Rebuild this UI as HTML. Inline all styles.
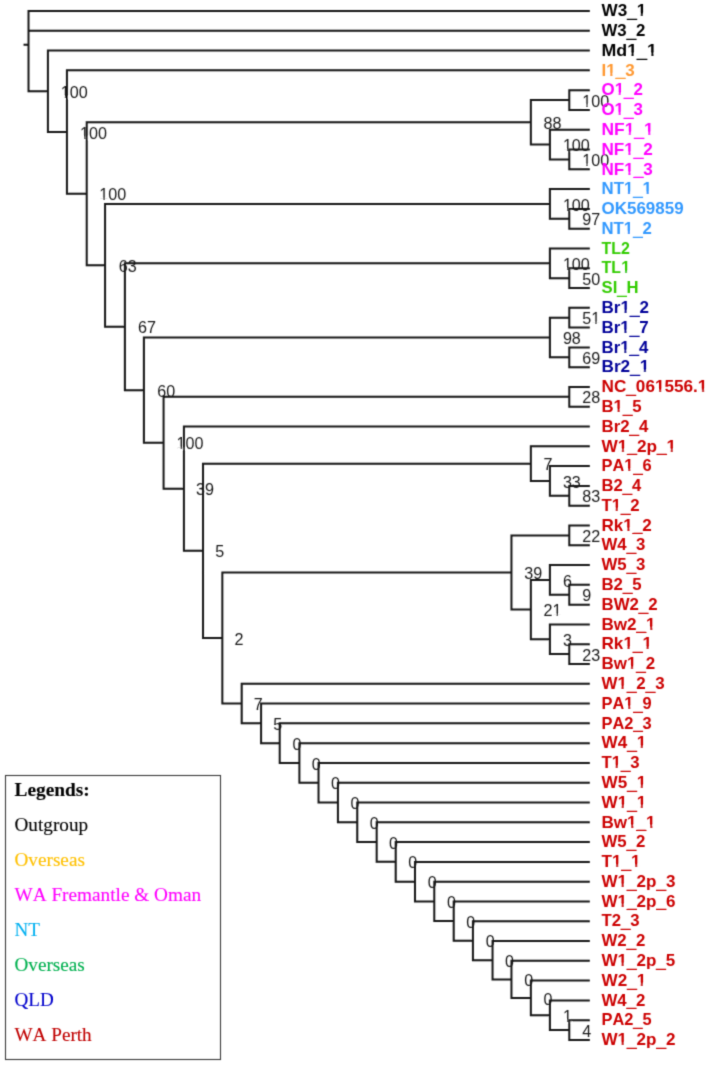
<!DOCTYPE html><html><head><meta charset="utf-8"><style>html,body{margin:0;padding:0;background:#fff;}body{width:708px;height:1065px;overflow:hidden;position:relative;}svg{position:absolute;left:0;top:0;}text{font-kerning:none;}</style></head><body>
<svg width="708" height="1065" viewBox="0 0 708 1065">
<defs><filter id="bl" x="0" y="0" width="708" height="1065" filterUnits="userSpaceOnUse"><feConvolveMatrix order="3" kernelMatrix="0.0225 0.1050 0.0225 0.1050 0.4900 0.1050 0.0225 0.1050 0.0225" edgeMode="none" preserveAlpha="false"/></filter></defs><rect width="708" height="1065" fill="#fff"/><g filter="url(#bl)">
<g font-family="Liberation Sans" font-size="17" fill="#1a1a1a">
<text x="582.20" y="106.65" textLength="26.95" lengthAdjust="spacingAndGlyphs">100</text>
<text x="582.20" y="166.01" textLength="26.95" lengthAdjust="spacingAndGlyphs">100</text>
<text x="562.89" y="151.17" textLength="26.95" lengthAdjust="spacingAndGlyphs">100</text>
<text x="543.57" y="128.91" textLength="17.96" lengthAdjust="spacingAndGlyphs">88</text>
<text x="582.20" y="225.37" textLength="17.96" lengthAdjust="spacingAndGlyphs">97</text>
<text x="562.89" y="210.53" textLength="26.95" lengthAdjust="spacingAndGlyphs">100</text>
<text x="582.20" y="284.74" textLength="17.96" lengthAdjust="spacingAndGlyphs">50</text>
<text x="562.89" y="269.90" textLength="26.95" lengthAdjust="spacingAndGlyphs">100</text>
<text x="582.20" y="324.31" textLength="17.96" lengthAdjust="spacingAndGlyphs">51</text>
<text x="582.20" y="363.89" textLength="17.96" lengthAdjust="spacingAndGlyphs">69</text>
<text x="562.89" y="344.10" textLength="17.96" lengthAdjust="spacingAndGlyphs">98</text>
<text x="582.20" y="403.47" textLength="17.96" lengthAdjust="spacingAndGlyphs">28</text>
<text x="582.20" y="502.41" textLength="17.96" lengthAdjust="spacingAndGlyphs">83</text>
<text x="562.89" y="487.57" textLength="17.96" lengthAdjust="spacingAndGlyphs">33</text>
<text x="543.57" y="470.25" textLength="8.98" lengthAdjust="spacingAndGlyphs">7</text>
<text x="582.20" y="541.98" textLength="17.96" lengthAdjust="spacingAndGlyphs">22</text>
<text x="582.20" y="601.35" textLength="8.98" lengthAdjust="spacingAndGlyphs">9</text>
<text x="562.89" y="586.50" textLength="8.98" lengthAdjust="spacingAndGlyphs">6</text>
<text x="582.20" y="660.71" textLength="17.96" lengthAdjust="spacingAndGlyphs">23</text>
<text x="562.89" y="645.87" textLength="8.98" lengthAdjust="spacingAndGlyphs">3</text>
<text x="543.57" y="616.19" textLength="17.96" lengthAdjust="spacingAndGlyphs">21</text>
<text x="524.26" y="579.08" textLength="17.96" lengthAdjust="spacingAndGlyphs">39</text>
<text x="582.20" y="1036.68" textLength="8.98" lengthAdjust="spacingAndGlyphs">4</text>
<text x="562.89" y="1021.84" textLength="8.98" lengthAdjust="spacingAndGlyphs">1</text>
<text x="543.57" y="1004.53" textLength="8.98" lengthAdjust="spacingAndGlyphs">0</text>
<text x="524.26" y="985.98" textLength="8.98" lengthAdjust="spacingAndGlyphs">0</text>
<text x="504.94" y="966.81" textLength="8.98" lengthAdjust="spacingAndGlyphs">0</text>
<text x="485.63" y="947.33" textLength="8.98" lengthAdjust="spacingAndGlyphs">0</text>
<text x="466.32" y="927.69" textLength="8.98" lengthAdjust="spacingAndGlyphs">0</text>
<text x="447.00" y="907.98" textLength="8.98" lengthAdjust="spacingAndGlyphs">0</text>
<text x="427.69" y="888.23" textLength="8.98" lengthAdjust="spacingAndGlyphs">0</text>
<text x="408.37" y="868.46" textLength="8.98" lengthAdjust="spacingAndGlyphs">0</text>
<text x="389.06" y="848.69" textLength="8.98" lengthAdjust="spacingAndGlyphs">0</text>
<text x="369.75" y="828.90" textLength="8.98" lengthAdjust="spacingAndGlyphs">0</text>
<text x="350.43" y="809.12" textLength="8.98" lengthAdjust="spacingAndGlyphs">0</text>
<text x="331.12" y="789.33" textLength="8.98" lengthAdjust="spacingAndGlyphs">0</text>
<text x="311.80" y="769.54" textLength="8.98" lengthAdjust="spacingAndGlyphs">0</text>
<text x="292.49" y="749.76" textLength="8.98" lengthAdjust="spacingAndGlyphs">0</text>
<text x="273.18" y="729.97" textLength="8.98" lengthAdjust="spacingAndGlyphs">5</text>
<text x="253.86" y="710.18" textLength="8.98" lengthAdjust="spacingAndGlyphs">7</text>
<text x="234.55" y="644.63" textLength="8.98" lengthAdjust="spacingAndGlyphs">2</text>
<text x="215.23" y="557.44" textLength="8.98" lengthAdjust="spacingAndGlyphs">5</text>
<text x="195.92" y="495.29" textLength="17.96" lengthAdjust="spacingAndGlyphs">39</text>
<text x="176.61" y="449.38" textLength="26.95" lengthAdjust="spacingAndGlyphs">100</text>
<text x="157.29" y="396.74" textLength="17.96" lengthAdjust="spacingAndGlyphs">60</text>
<text x="137.98" y="333.32" textLength="17.96" lengthAdjust="spacingAndGlyphs">67</text>
<text x="118.66" y="271.93" textLength="17.96" lengthAdjust="spacingAndGlyphs">63</text>
<text x="99.35" y="200.42" textLength="26.95" lengthAdjust="spacingAndGlyphs">100</text>
<text x="80.04" y="138.69" textLength="26.95" lengthAdjust="spacingAndGlyphs">100</text>
<text x="60.72" y="97.93" textLength="26.95" lengthAdjust="spacingAndGlyphs">100</text>
</g>
<g font-family="Liberation Sans" font-weight="bold" font-size="17">
<text x="601.5" y="16.20" fill="#000000" textLength="44.70" lengthAdjust="spacingAndGlyphs">W3<tspan dy="1.8" stroke="#000000" stroke-width="0.6">_</tspan><tspan dy="-1.8">1</tspan></text>
<text x="601.5" y="35.99" fill="#000000" textLength="43.87" lengthAdjust="spacingAndGlyphs">W3<tspan dy="1.8" stroke="#000000" stroke-width="0.6">_</tspan><tspan dy="-1.8">2</tspan></text>
<text x="601.5" y="55.78" fill="#000000" textLength="55.43" lengthAdjust="spacingAndGlyphs">Md1<tspan dy="1.8" stroke="#000000" stroke-width="0.6">_</tspan><tspan dy="-1.8">1</tspan></text>
<text x="601.5" y="75.56" fill="#ff9933" textLength="33.12" lengthAdjust="spacingAndGlyphs">I1<tspan dy="1.8" stroke="#ff9933" stroke-width="0.6">_</tspan><tspan dy="-1.8">3</tspan></text>
<text x="601.5" y="95.35" fill="#ff00ff" textLength="41.38" lengthAdjust="spacingAndGlyphs">O1<tspan dy="1.8" stroke="#ff00ff" stroke-width="0.6">_</tspan><tspan dy="-1.8">2</tspan></text>
<text x="601.5" y="115.14" fill="#ff00ff" textLength="41.31" lengthAdjust="spacingAndGlyphs">O1<tspan dy="1.8" stroke="#ff00ff" stroke-width="0.6">_</tspan><tspan dy="-1.8">3</tspan></text>
<text x="601.5" y="134.93" fill="#ff00ff" textLength="52.15" lengthAdjust="spacingAndGlyphs">NF1<tspan dy="1.8" stroke="#ff00ff" stroke-width="0.6">_</tspan><tspan dy="-1.8">1</tspan></text>
<text x="601.5" y="154.72" fill="#ff00ff" textLength="51.39" lengthAdjust="spacingAndGlyphs">NF1<tspan dy="1.8" stroke="#ff00ff" stroke-width="0.6">_</tspan><tspan dy="-1.8">2</tspan></text>
<text x="601.5" y="174.50" fill="#ff00ff" textLength="51.32" lengthAdjust="spacingAndGlyphs">NF1<tspan dy="1.8" stroke="#ff00ff" stroke-width="0.6">_</tspan><tspan dy="-1.8">3</tspan></text>
<text x="601.5" y="194.29" fill="#3399ff" textLength="50.45" lengthAdjust="spacingAndGlyphs">NT1<tspan dy="1.8" stroke="#3399ff" stroke-width="0.6">_</tspan><tspan dy="-1.8">1</tspan></text>
<text x="601.5" y="214.08" fill="#3399ff" textLength="82.11" lengthAdjust="spacingAndGlyphs">OK569859</text>
<text x="601.5" y="233.87" fill="#3399ff" textLength="50.27" lengthAdjust="spacingAndGlyphs">NT1<tspan dy="1.8" stroke="#3399ff" stroke-width="0.6">_</tspan><tspan dy="-1.8">2</tspan></text>
<text x="601.5" y="253.66" fill="#33cc00" textLength="28.34" lengthAdjust="spacingAndGlyphs">TL2</text>
<text x="601.5" y="273.44" fill="#33cc00" textLength="28.63" lengthAdjust="spacingAndGlyphs">TL1</text>
<text x="601.5" y="293.23" fill="#33cc00" textLength="37.14" lengthAdjust="spacingAndGlyphs">SI<tspan dy="1.8" stroke="#33cc00" stroke-width="0.6">_</tspan><tspan dy="-1.8">H</tspan></text>
<text x="601.5" y="313.02" fill="#000099" textLength="47.38" lengthAdjust="spacingAndGlyphs">Br1<tspan dy="1.8" stroke="#000099" stroke-width="0.6">_</tspan><tspan dy="-1.8">2</tspan></text>
<text x="601.5" y="332.81" fill="#000099" textLength="47.15" lengthAdjust="spacingAndGlyphs">Br1<tspan dy="1.8" stroke="#000099" stroke-width="0.6">_</tspan><tspan dy="-1.8">7</tspan></text>
<text x="601.5" y="352.60" fill="#000099" textLength="46.80" lengthAdjust="spacingAndGlyphs">Br1<tspan dy="1.8" stroke="#000099" stroke-width="0.6">_</tspan><tspan dy="-1.8">4</tspan></text>
<text x="601.5" y="372.38" fill="#000099" textLength="47.82" lengthAdjust="spacingAndGlyphs">Br2<tspan dy="1.8" stroke="#000099" stroke-width="0.6">_</tspan><tspan dy="-1.8">1</tspan></text>
<text x="601.5" y="392.17" fill="#cc0000" textLength="105.91" lengthAdjust="spacingAndGlyphs">NC<tspan dy="1.8" stroke="#cc0000" stroke-width="0.6">_</tspan><tspan dy="-1.8">061556.1</tspan></text>
<text x="601.5" y="411.96" fill="#cc0000" textLength="40.07" lengthAdjust="spacingAndGlyphs">B1<tspan dy="1.8" stroke="#cc0000" stroke-width="0.6">_</tspan><tspan dy="-1.8">5</tspan></text>
<text x="601.5" y="431.75" fill="#cc0000" textLength="46.80" lengthAdjust="spacingAndGlyphs">Br2<tspan dy="1.8" stroke="#cc0000" stroke-width="0.6">_</tspan><tspan dy="-1.8">4</tspan></text>
<text x="601.5" y="451.54" fill="#cc0000" textLength="74.73" lengthAdjust="spacingAndGlyphs">W1<tspan dy="1.8" stroke="#cc0000" stroke-width="0.6">_</tspan><tspan dy="-1.8">2p</tspan><tspan dy="1.8" stroke="#cc0000" stroke-width="0.6">_</tspan><tspan dy="-1.8">1</tspan></text>
<text x="601.5" y="471.32" fill="#cc0000" textLength="50.21" lengthAdjust="spacingAndGlyphs">PA1<tspan dy="1.8" stroke="#cc0000" stroke-width="0.6">_</tspan><tspan dy="-1.8">6</tspan></text>
<text x="601.5" y="491.11" fill="#cc0000" textLength="39.70" lengthAdjust="spacingAndGlyphs">B2<tspan dy="1.8" stroke="#cc0000" stroke-width="0.6">_</tspan><tspan dy="-1.8">4</tspan></text>
<text x="601.5" y="510.90" fill="#cc0000" textLength="38.17" lengthAdjust="spacingAndGlyphs">T1<tspan dy="1.8" stroke="#cc0000" stroke-width="0.6">_</tspan><tspan dy="-1.8">2</tspan></text>
<text x="601.5" y="530.69" fill="#cc0000" textLength="50.29" lengthAdjust="spacingAndGlyphs">Rk1<tspan dy="1.8" stroke="#cc0000" stroke-width="0.6">_</tspan><tspan dy="-1.8">2</tspan></text>
<text x="601.5" y="550.48" fill="#cc0000" textLength="43.81" lengthAdjust="spacingAndGlyphs">W4<tspan dy="1.8" stroke="#cc0000" stroke-width="0.6">_</tspan><tspan dy="-1.8">3</tspan></text>
<text x="601.5" y="570.26" fill="#cc0000" textLength="43.81" lengthAdjust="spacingAndGlyphs">W5<tspan dy="1.8" stroke="#cc0000" stroke-width="0.6">_</tspan><tspan dy="-1.8">3</tspan></text>
<text x="601.5" y="590.05" fill="#cc0000" textLength="40.07" lengthAdjust="spacingAndGlyphs">B2<tspan dy="1.8" stroke="#cc0000" stroke-width="0.6">_</tspan><tspan dy="-1.8">5</tspan></text>
<text x="601.5" y="609.84" fill="#cc0000" textLength="56.08" lengthAdjust="spacingAndGlyphs">BW2<tspan dy="1.8" stroke="#cc0000" stroke-width="0.6">_</tspan><tspan dy="-1.8">2</tspan></text>
<text x="601.5" y="629.63" fill="#cc0000" textLength="54.10" lengthAdjust="spacingAndGlyphs">Bw2<tspan dy="1.8" stroke="#cc0000" stroke-width="0.6">_</tspan><tspan dy="-1.8">1</tspan></text>
<text x="601.5" y="649.42" fill="#cc0000" textLength="50.51" lengthAdjust="spacingAndGlyphs">Rk1<tspan dy="1.8" stroke="#cc0000" stroke-width="0.6">_</tspan><tspan dy="-1.8">1</tspan></text>
<text x="601.5" y="669.20" fill="#cc0000" textLength="53.68" lengthAdjust="spacingAndGlyphs">Bw1<tspan dy="1.8" stroke="#cc0000" stroke-width="0.6">_</tspan><tspan dy="-1.8">2</tspan></text>
<text x="601.5" y="688.99" fill="#cc0000" textLength="63.11" lengthAdjust="spacingAndGlyphs">W1<tspan dy="1.8" stroke="#cc0000" stroke-width="0.6">_</tspan><tspan dy="-1.8">2</tspan><tspan dy="1.8" stroke="#cc0000" stroke-width="0.6">_</tspan><tspan dy="-1.8">3</tspan></text>
<text x="601.5" y="708.78" fill="#cc0000" textLength="50.21" lengthAdjust="spacingAndGlyphs">PA1<tspan dy="1.8" stroke="#cc0000" stroke-width="0.6">_</tspan><tspan dy="-1.8">9</tspan></text>
<text x="601.5" y="728.57" fill="#cc0000" textLength="50.21" lengthAdjust="spacingAndGlyphs">PA2<tspan dy="1.8" stroke="#cc0000" stroke-width="0.6">_</tspan><tspan dy="-1.8">3</tspan></text>
<text x="601.5" y="748.36" fill="#cc0000" textLength="44.70" lengthAdjust="spacingAndGlyphs">W4<tspan dy="1.8" stroke="#cc0000" stroke-width="0.6">_</tspan><tspan dy="-1.8">1</tspan></text>
<text x="601.5" y="768.14" fill="#cc0000" textLength="38.10" lengthAdjust="spacingAndGlyphs">T1<tspan dy="1.8" stroke="#cc0000" stroke-width="0.6">_</tspan><tspan dy="-1.8">3</tspan></text>
<text x="601.5" y="787.93" fill="#cc0000" textLength="44.70" lengthAdjust="spacingAndGlyphs">W5<tspan dy="1.8" stroke="#cc0000" stroke-width="0.6">_</tspan><tspan dy="-1.8">1</tspan></text>
<text x="601.5" y="807.72" fill="#cc0000" textLength="44.70" lengthAdjust="spacingAndGlyphs">W1<tspan dy="1.8" stroke="#cc0000" stroke-width="0.6">_</tspan><tspan dy="-1.8">1</tspan></text>
<text x="601.5" y="827.51" fill="#cc0000" textLength="54.10" lengthAdjust="spacingAndGlyphs">Bw1<tspan dy="1.8" stroke="#cc0000" stroke-width="0.6">_</tspan><tspan dy="-1.8">1</tspan></text>
<text x="601.5" y="847.30" fill="#cc0000" textLength="43.87" lengthAdjust="spacingAndGlyphs">W5<tspan dy="1.8" stroke="#cc0000" stroke-width="0.6">_</tspan><tspan dy="-1.8">2</tspan></text>
<text x="601.5" y="867.08" fill="#cc0000" textLength="39.00" lengthAdjust="spacingAndGlyphs">T1<tspan dy="1.8" stroke="#cc0000" stroke-width="0.6">_</tspan><tspan dy="-1.8">1</tspan></text>
<text x="601.5" y="886.87" fill="#cc0000" textLength="73.92" lengthAdjust="spacingAndGlyphs">W1<tspan dy="1.8" stroke="#cc0000" stroke-width="0.6">_</tspan><tspan dy="-1.8">2p</tspan><tspan dy="1.8" stroke="#cc0000" stroke-width="0.6">_</tspan><tspan dy="-1.8">3</tspan></text>
<text x="601.5" y="906.66" fill="#cc0000" textLength="73.92" lengthAdjust="spacingAndGlyphs">W1<tspan dy="1.8" stroke="#cc0000" stroke-width="0.6">_</tspan><tspan dy="-1.8">2p</tspan><tspan dy="1.8" stroke="#cc0000" stroke-width="0.6">_</tspan><tspan dy="-1.8">6</tspan></text>
<text x="601.5" y="926.45" fill="#cc0000" textLength="38.10" lengthAdjust="spacingAndGlyphs">T2<tspan dy="1.8" stroke="#cc0000" stroke-width="0.6">_</tspan><tspan dy="-1.8">3</tspan></text>
<text x="601.5" y="946.24" fill="#cc0000" textLength="43.87" lengthAdjust="spacingAndGlyphs">W2<tspan dy="1.8" stroke="#cc0000" stroke-width="0.6">_</tspan><tspan dy="-1.8">2</tspan></text>
<text x="601.5" y="966.02" fill="#cc0000" textLength="73.78" lengthAdjust="spacingAndGlyphs">W1<tspan dy="1.8" stroke="#cc0000" stroke-width="0.6">_</tspan><tspan dy="-1.8">2p</tspan><tspan dy="1.8" stroke="#cc0000" stroke-width="0.6">_</tspan><tspan dy="-1.8">5</tspan></text>
<text x="601.5" y="985.81" fill="#cc0000" textLength="44.70" lengthAdjust="spacingAndGlyphs">W2<tspan dy="1.8" stroke="#cc0000" stroke-width="0.6">_</tspan><tspan dy="-1.8">1</tspan></text>
<text x="601.5" y="1005.60" fill="#cc0000" textLength="43.87" lengthAdjust="spacingAndGlyphs">W4<tspan dy="1.8" stroke="#cc0000" stroke-width="0.6">_</tspan><tspan dy="-1.8">2</tspan></text>
<text x="601.5" y="1025.39" fill="#cc0000" textLength="50.07" lengthAdjust="spacingAndGlyphs">PA2<tspan dy="1.8" stroke="#cc0000" stroke-width="0.6">_</tspan><tspan dy="-1.8">5</tspan></text>
<text x="601.5" y="1045.18" fill="#cc0000" textLength="73.99" lengthAdjust="spacingAndGlyphs">W1<tspan dy="1.8" stroke="#cc0000" stroke-width="0.6">_</tspan><tspan dy="-1.8">2p</tspan><tspan dy="1.8" stroke="#cc0000" stroke-width="0.6">_</tspan><tspan dy="-1.8">2</tspan></text>
</g>
<path d="M582.80 104.68H586.26V107.35H582.80Z M587.69 104.68H591.03V107.35H587.69Z M582.80 164.04H586.26V166.71H582.80Z M587.69 164.04H591.03V166.71H587.69Z M563.49 149.20H566.95V151.87H563.49Z M568.38 149.20H571.72V151.87H568.38Z M563.49 208.56H566.95V211.23H563.49Z M568.38 208.56H571.72V211.23H568.38Z M563.49 267.93H566.95V270.60H563.49Z M568.38 267.93H571.72V270.60H568.38Z M591.77 322.34H595.23V325.01H591.77Z M596.66 322.34H600.00V325.01H596.66Z M553.14 614.22H556.60V616.89H553.14Z M558.03 614.22H561.37V616.89H558.03Z M563.49 1019.87H566.95V1022.54H563.49Z M568.38 1019.87H571.71V1022.54H568.38Z M177.21 447.41H180.67V450.08H177.21Z M182.10 447.41H185.44V450.08H182.10Z M99.95 198.45H103.41V201.12H99.95Z M104.84 198.45H108.18V201.12H104.84Z M80.64 136.72H84.10V139.39H80.64Z M85.53 136.72H88.87V139.39H85.53Z M61.32 95.96H64.78V98.63H61.32Z M66.21 95.96H69.55V98.63H66.21Z M637.08 13.77H640.68V16.90H637.08Z M643.02 13.77H646.39V16.90H643.02Z M627.61 53.35H631.35V56.48H627.61Z M633.79 53.35H637.30V56.48H633.79Z M647.44 53.35H651.18V56.48H647.44Z M653.62 53.35H657.13V56.48H653.62Z M606.63 73.13H610.19V76.26H606.63Z M612.52 73.13H615.87V76.26H612.52Z M615.05 92.92H618.59V96.05H615.05Z M620.91 92.92H624.24V96.05H620.91Z M615.02 112.71H618.57V115.84H615.02Z M620.88 112.71H624.20V115.84H620.88Z M625.05 132.50H628.70V135.63H625.05Z M631.08 132.50H634.50V135.63H631.08Z M644.40 132.50H648.04V135.63H644.40Z M650.42 132.50H653.84V135.63H650.42Z M624.71 152.29H628.30V155.42H624.71Z M630.65 152.29H634.02V155.42H630.65Z M624.68 172.07H628.27V175.20H624.68Z M630.61 172.07H633.98V175.20H630.61Z M624.29 191.86H627.81V194.99H624.29Z M630.11 191.86H633.43V194.99H630.11Z M643.00 191.86H646.52V194.99H643.00Z M648.83 191.86H652.14V194.99H648.83Z M624.21 231.44H627.72V234.57H624.21Z M630.01 231.44H633.31V234.57H630.01Z M621.55 271.01H624.93V274.14H621.55Z M627.14 271.01H630.31V274.14H627.14Z M620.83 310.59H624.41V313.72H620.83Z M626.74 310.59H630.10V313.72H626.74Z M620.74 330.38H624.30V333.51H620.74Z M626.62 330.38H629.96V333.51H626.62Z M620.60 350.17H624.13V353.30H620.60Z M626.43 350.17H629.75V353.30H626.43Z M640.16 369.95H643.77V373.08H640.16Z M646.12 369.95H649.51V373.08H646.12Z M655.34 389.74H658.94V392.87H655.34Z M661.29 389.74H664.68V392.87H661.29Z M698.26 389.74H701.87V392.87H698.26Z M704.22 389.74H707.60V392.87H704.22Z M613.99 409.53H617.50V412.66H613.99Z M619.80 409.53H623.10V412.66H619.80Z M618.16 449.11H621.77V452.24H618.16Z M624.13 449.11H627.53V452.24H624.13Z M667.05 449.11H670.67V452.24H667.05Z M673.03 449.11H676.42V452.24H673.03Z M624.68 468.89H628.13V472.02H624.68Z M630.38 468.89H633.61V472.02H630.38Z M612.11 508.47H615.63V511.60H612.11Z M617.92 508.47H621.22V511.60H617.92Z M623.70 528.26H627.28V531.39H623.70Z M629.62 528.26H632.98V531.39H629.62Z M646.51 627.20H650.09V630.33H646.51Z M652.43 627.20H655.79V630.33H652.43Z M623.80 646.99H627.39V650.12H623.80Z M629.74 646.99H633.12V650.12H629.74Z M642.88 646.99H646.48V650.12H642.88Z M648.82 646.99H652.20V650.12H648.82Z M627.30 666.77H630.85V669.90H627.30Z M633.17 666.77H636.51V669.90H633.17Z M617.87 686.56H621.42V689.69H617.87Z M623.74 686.56H627.08V689.69H623.74Z M624.68 706.35H628.13V709.48H624.68Z M630.38 706.35H633.61V709.48H630.38Z M637.08 745.93H640.68V749.06H637.08Z M643.02 745.93H646.39V749.06H643.02Z M612.09 765.71H615.60V768.84H612.09Z M617.89 765.71H621.18V768.84H617.89Z M637.08 785.50H640.68V788.63H637.08Z M643.02 785.50H646.39V788.63H643.02Z M618.04 805.29H621.63V808.42H618.04Z M623.97 805.29H627.34V808.42H623.97Z M637.08 805.29H640.68V808.42H637.08Z M643.02 805.29H646.39V808.42H643.02Z M627.50 825.08H631.08V828.21H627.50Z M633.42 825.08H636.78V828.21H633.42Z M646.51 825.08H650.09V828.21H646.51Z M652.43 825.08H655.79V828.21H652.43Z M612.34 864.65H615.93V867.78H612.34Z M618.28 864.65H621.65V867.78H618.28Z M631.39 864.65H634.98V867.78H631.39Z M637.32 864.65H640.69V867.78H637.32Z M617.98 884.44H621.55V887.57H617.98Z M623.89 884.44H627.25V887.57H623.89Z M617.98 904.23H621.55V907.36H617.98Z M623.89 904.23H627.25V907.36H623.89Z M617.95 963.59H621.52V966.72H617.95Z M623.85 963.59H627.20V966.72H623.85Z M637.08 983.38H640.68V986.51H637.08Z M643.02 983.38H646.39V986.51H643.02Z M617.99 1042.75H621.57V1045.88H617.99Z M623.91 1042.75H627.27V1045.88H623.91Z" fill="#fff"/>
<path d="M569.30 89.15V110.94 M569.30 90.15H589.80 M569.30 109.94H589.80 M569.30 148.52V170.30 M569.30 149.52H589.80 M569.30 169.30H589.80 M549.89 128.73V160.41 M549.89 129.73H589.80 M549.89 159.41H569.30 M530.87 99.05V145.57 M530.87 100.05H569.30 M530.87 144.57H549.89 M569.30 207.88V229.67 M569.30 208.88H589.80 M569.30 228.67H589.80 M549.89 188.09V219.77 M549.89 189.09H589.80 M549.89 218.77H569.30 M569.30 267.24V289.03 M569.30 268.24H589.80 M569.30 288.03H589.80 M549.89 247.46V279.14 M549.89 248.46H589.80 M549.89 278.14H569.30 M569.30 306.82V328.61 M569.30 307.82H589.80 M569.30 327.61H589.80 M569.30 346.40V368.18 M569.30 347.40H589.80 M569.30 367.18H589.80 M549.89 316.71V358.29 M549.89 317.71H569.30 M549.89 357.29H569.30 M569.30 385.97V407.76 M569.30 386.97H589.80 M569.30 406.76H589.80 M569.30 484.91V506.70 M569.30 485.91H589.80 M569.30 505.70H589.80 M549.89 465.12V496.81 M549.89 466.12H589.80 M549.89 495.81H569.30 M530.87 445.34V481.97 M530.87 446.34H589.80 M530.87 480.97H549.89 M569.30 524.49V546.28 M569.30 525.49H589.80 M569.30 545.28H589.80 M569.30 583.85V605.64 M569.30 584.85H589.80 M569.30 604.64H589.80 M549.89 564.06V595.75 M549.89 565.06H589.80 M549.89 594.75H569.30 M569.30 643.22V665.00 M569.30 644.22H589.80 M569.30 664.00H589.80 M549.89 623.43V655.11 M549.89 624.43H589.80 M549.89 654.11H569.30 M530.87 578.90V640.27 M530.87 579.90H549.89 M530.87 639.27H549.89 M511.46 534.38V610.59 M511.46 535.38H569.30 M511.46 609.59H530.87 M569.30 1019.19V1040.98 M569.30 1020.19H589.80 M569.30 1039.98H589.80 M549.89 999.40V1031.08 M549.89 1000.40H589.80 M549.89 1030.08H569.30 M530.87 979.61V1016.24 M530.87 980.61H589.80 M530.87 1015.24H549.89 M511.46 959.82V998.93 M511.46 960.82H589.80 M511.46 997.93H530.87 M492.54 940.04V980.38 M492.54 941.04H589.80 M492.54 979.38H511.46 M472.93 920.25V961.21 M472.93 921.25H589.80 M472.93 960.21H492.54 M453.72 900.46V941.73 M453.72 901.46H589.80 M453.72 940.73H472.93 M434.30 880.67V922.09 M434.30 881.67H589.80 M434.30 921.09H453.72 M414.99 860.88V902.38 M414.99 861.88H589.80 M414.99 901.38H434.30 M395.72 841.10V882.63 M395.72 842.10H589.80 M395.72 881.63H414.99 M376.66 821.31V862.86 M376.66 822.31H589.80 M376.66 861.86H395.72 M357.25 801.52V843.09 M357.25 802.52H589.80 M357.25 842.09H376.66 M337.93 781.73V823.30 M337.93 782.73H589.80 M337.93 822.30H357.25 M318.52 761.94V803.52 M318.52 762.94H589.80 M318.52 802.52H337.93 M299.40 742.16V783.73 M299.40 743.16H589.80 M299.40 782.73H318.52 M279.69 722.37V763.94 M279.69 723.37H589.80 M279.69 762.94H299.40 M261.08 702.58V744.16 M261.08 703.58H589.80 M261.08 743.16H279.69 M241.71 682.79V724.37 M241.71 683.79H589.80 M241.71 723.37H261.08 M222.35 571.48V704.58 M222.35 572.48H511.46 M222.35 703.58H241.71 M203.03 462.65V639.03 M203.03 463.65H530.87 M203.03 638.03H222.35 M183.92 425.55V551.84 M183.92 426.55H589.80 M183.92 550.84H203.03 M163.57 395.87V489.69 M163.57 396.87H569.30 M163.57 488.69H183.92 M143.89 336.50V443.78 M143.89 337.50H549.89 M143.89 442.78H163.57 M124.88 262.30V391.14 M124.88 263.30H549.89 M124.88 390.14H143.89 M105.06 202.93V327.72 M105.06 203.93H549.89 M105.06 326.72H124.88 M86.70 121.31V266.33 M86.70 122.31H530.87 M86.70 265.33H105.06 M66.94 69.36V194.82 M66.94 70.36H589.80 M66.94 193.82H86.70 M47.92 49.58V133.09 M47.92 50.58H589.80 M47.92 132.09H66.94 M28.51 10.00V92.33 M28.51 11.00H589.80 M28.51 30.79H589.80 M28.51 91.33H47.92 M23.51 44.70H28.51" stroke="#141414" stroke-width="2.0" fill="none"/>
<rect x="5.5" y="775.5" width="215" height="284" fill="none" stroke="#3a3a3a" stroke-width="1.1"/>
<g font-family="Liberation Serif" font-size="19">
<text x="14.5" y="795.60" fill="#000000" stroke="#000000" stroke-width="0.12" font-weight="bold" textLength="75.32" lengthAdjust="spacingAndGlyphs">Legends:</text>
<text x="14.5" y="830.65" fill="#000000" stroke="#000000" stroke-width="0.12" font-weight="normal" textLength="73.57" lengthAdjust="spacingAndGlyphs">Outgroup</text>
<text x="14.5" y="865.70" fill="#ffc000" stroke="#ffc000" stroke-width="0.12" font-weight="normal" textLength="70.38" lengthAdjust="spacingAndGlyphs">Overseas</text>
<text x="14.5" y="900.75" fill="#ff00ff" stroke="#ff00ff" stroke-width="0.12" font-weight="normal" textLength="186.61" lengthAdjust="spacingAndGlyphs">WA Fremantle &amp; Oman</text>
<text x="14.5" y="935.80" fill="#00b0f0" stroke="#00b0f0" stroke-width="0.12" font-weight="normal" textLength="25.42" lengthAdjust="spacingAndGlyphs">NT</text>
<text x="14.5" y="970.85" fill="#00b050" stroke="#00b050" stroke-width="0.12" font-weight="normal" textLength="70.27" lengthAdjust="spacingAndGlyphs">Overseas</text>
<text x="14.5" y="1005.90" fill="#0000cc" stroke="#0000cc" stroke-width="0.12" font-weight="normal" textLength="39.27" lengthAdjust="spacingAndGlyphs">QLD</text>
<text x="14.5" y="1040.95" fill="#c00000" stroke="#c00000" stroke-width="0.12" font-weight="normal" textLength="77.18" lengthAdjust="spacingAndGlyphs">WA Perth</text>
</g>
</g></svg></body></html>
